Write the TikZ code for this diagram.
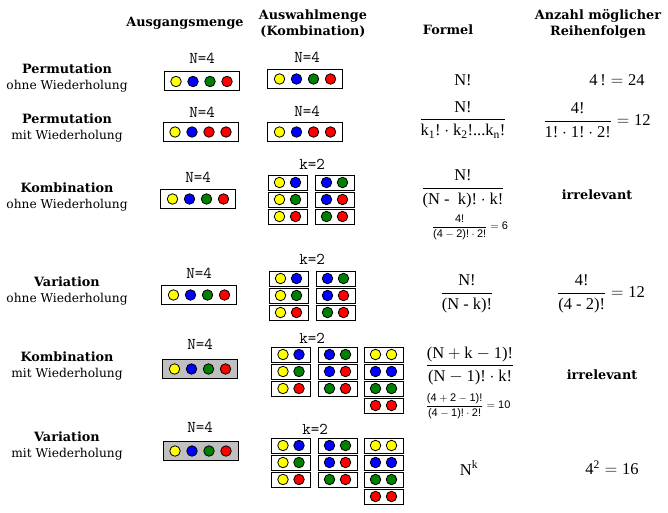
\documentclass[tikz,border=0pt]{standalone}
\usepackage{amsmath}
\usepackage{fontspec}
\setmainfont{Liberation Serif}
\setsansfont{Liberation Sans}
\newfontfamily\dvserif{DejaVu Serif}
\usetikzlibrary{calc}
\definecolor{cyel}{RGB}{255,255,0}
\definecolor{cblu}{RGB}{0,0,255}
\definecolor{cgrn}{RGB}{0,128,0}
\definecolor{cred}{RGB}{255,0,0}
\definecolor{csil}{RGB}{192,192,192}
\newcommand\rmtx[1]{\textrm{#1}}
\newcommand\sftx[1]{\textsf{#1}}
\tikzset{
 bigbx/.style={draw, line width=1pt, minimum width=75pt, minimum height=19pt, inner sep=0pt},
 smallbx/.style={draw, line width=1pt, minimum width=39pt, minimum height=15pt, inner sep=0pt, fill=white},
 ball/.style={circle, draw, line width=0.8pt, minimum size=10.5pt, inner sep=0pt},
 cnt/.style={font=\ttfamily\fontsize{16.5}{16}\selectfont, inner sep=0pt},
 hdr/.style={font=\dvserif\bfseries\fontsize{12.8}{16}\selectfont, align=center, inner sep=0pt},
 rowlbl/.style={font=\dvserif\fontsize{12.2}{16}\selectfont, align=center, inner sep=0pt},
 fml/.style={font=\fontsize{16.5}{19}\selectfont, inner sep=0pt},
 smallfml/.style={font=\sffamily\fontsize{11}{13}\selectfont, inner sep=0pt},
 irr/.style={font=\dvserif\bfseries\fontsize{12.8}{14}\selectfont, inner sep=0pt},
}
\newcommand\bigset[8]{%
  \node[bigbx, fill=#4] (#1) at (#2,#3) {};
  \node[ball, fill=#5] (#1-1) at ({#2-25.5},#3) {};
  \node[ball, fill=#6] (#1-2) at ({#2-8.5},#3) {};
  \node[ball, fill=#7] (#1-3) at ({#2+8.5},#3) {};
  \node[ball, fill=#8] (#1-4) at ({#2+25.5},#3) {};
}
\newcommand\pairset[5]{%
  \node[smallbx] (#1) at (#2,#3) {};
  \node[ball, fill=#4] (#1-1) at ({#2-8},#3) {};
  \node[ball, fill=#5] (#1-2) at ({#2+8},#3) {};
}
\newcommand\twocols[4]{%
  \pairset{#1a1}{#2}{#4}{cyel}{cblu}
  \pairset{#1a2}{#2}{#4+17}{cyel}{cgrn}
  \pairset{#1a3}{#2}{#4+34}{cyel}{cred}
  \pairset{#1b1}{#3}{#4}{cblu}{cgrn}
  \pairset{#1b2}{#3}{#4+17}{cblu}{cred}
  \pairset{#1b3}{#3}{#4+34}{cgrn}{cred}
}
\newcommand\thirdcol[3]{%
  \pairset{#1c1}{#2}{#3}{cyel}{cyel}
  \pairset{#1c2}{#2}{#3+17}{cblu}{cblu}
  \pairset{#1c3}{#2}{#3+34}{cgrn}{cgrn}
  \pairset{#1c4}{#2}{#3+51}{cred}{cred}
}
\begin{document}
\begin{tikzpicture}[x=1pt,y=-1pt]
\useasboundingbox (0,0) rectangle (668,513);
% headers
\node[hdr] (hAus) at (185,23) {Ausgangsmenge};
\node[hdr] (hAusw) at (313,24) {Auswahlmenge\\(Kombination)};
\node[hdr] (hForm) at (448,30) {Formel};
\node[hdr] (hAnz) at (598,24) {Anzahl möglicher\\Reihenfolgen};
% row labels
\node[rowlbl] (l1) at (67,78) {{\bfseries\fontsize{12.8}{16}\selectfont Permutation}\\ohne Wiederholung};
\node[rowlbl] (l2) at (67,128) {{\bfseries\fontsize{12.8}{16}\selectfont Permutation}\\mit Wiederholung};
\node[rowlbl] (l3) at (67,197) {{\bfseries\fontsize{12.8}{16}\selectfont Kombination}\\ohne Wiederholung};
\node[rowlbl] (l4) at (67,291) {{\bfseries\fontsize{12.8}{16}\selectfont Variation}\\ohne Wiederholung};
\node[rowlbl] (l5) at (67,366) {{\bfseries\fontsize{12.8}{16}\selectfont Kombination}\\mit Wiederholung};
\node[rowlbl] (l6) at (67,446) {{\bfseries\fontsize{12.8}{16}\selectfont Variation}\\mit Wiederholung};
% row 1
\node[cnt] (n1a) at (202,58) {N=4};
\bigset{s1a}{201.5}{81.5}{white}{cyel}{cblu}{cgrn}{cred}
\node[cnt] (n1b) at (307,57) {N=4};
\bigset{s1b}{305}{79}{white}{cyel}{cblu}{cgrn}{cred}
\node[fml] (f1) at (463,80) {N!};
\node[fml] (r1) at (617,80) {$\rmtx{4\,!} = \rmtx{24}$};
% row 2
\node[cnt] (n2a) at (202,112) {N=4};
\bigset{s2a}{200.5}{132}{white}{cyel}{cblu}{cred}{cred}
\node[cnt] (n2b) at (307,111) {N=4};
\bigset{s2b}{305}{132}{white}{cyel}{cblu}{cred}{cred}
\node[fml] (f2) at (463,120) {$\dfrac{\rmtx{N!}}{\rmtx{k}_{\rmtx{1}}\rmtx{!}\cdot\rmtx{k}_{\rmtx{2}}\rmtx{!...k}_{\rmtx{n}}\rmtx{!}}$};
\node[fml] (r2) at (597,120) {$\dfrac{\rmtx{4!}}{\rmtx{1!}\cdot\rmtx{1!}\cdot\rmtx{2!}} = \rmtx{12}$};
% row 3
\node[cnt] (n3a) at (198,177) {N=4};
\bigset{s3a}{198}{199}{white}{cyel}{cblu}{cgrn}{cred}
\node[cnt] (k3) at (312,164) {k=2};
\twocols{c3}{287.5}{334.5}{182.5}
\node[fml] (f3) at (463,189) {$\dfrac{\rmtx{N!}}{\rmtx{(N -\ \ k)!}\cdot\rmtx{k!}}$};
\node[smallfml] (e3) at (470,227) {$\dfrac{\sftx{4!}}{\sftx{(4}-\sftx{2)!}\cdot\sftx{2!}} = \sftx{6}$};
\node[irr] (r3) at (597,195) {irrelevant};
% row 4
\node[cnt] (n4a) at (199,273) {N=4};
\bigset{s4a}{199}{295}{white}{cyel}{cblu}{cgrn}{cred}
\node[cnt] (k4) at (312,259) {k=2};
\twocols{c4}{288.5}{335.5}{278.5}
\node[fml] (f4) at (467,294) {$\dfrac{\rmtx{N!}}{\rmtx{(N - k)!}}$};
\node[fml] (r4) at (601,294) {$\dfrac{\rmtx{4!}}{\rmtx{(4 - 2)!}} = \rmtx{12}$};
% row 5
\node[cnt] (n5a) at (200,344) {N=4};
\bigset{s5a}{200}{369}{csil}{cyel}{cblu}{cgrn}{cred}
\node[cnt] (k5) at (312,338) {k=2};
\twocols{c5}{291}{337.5}{354.5}
\thirdcol{c5}{383.5}{354.5}
\node[fml] (f5) at (470,366) {$\dfrac{\rmtx{(N}+\rmtx{k}-\rmtx{1)!}}{\rmtx{(N}-\rmtx{1)!}\cdot\rmtx{k!}}$};
\node[smallfml] (e5) at (468,406) {$\dfrac{\sftx{(4}+\sftx{2}-\sftx{1)!}}{\sftx{(4}-\sftx{1)!}\cdot\sftx{2!}} = \sftx{10}$};
\node[irr] (r5) at (602,375) {irrelevant};
% row 6
\node[cnt] (n6a) at (200,427) {N=4};
\bigset{s6a}{200.5}{451}{csil}{cyel}{cblu}{cgrn}{cred}
\node[cnt] (k6) at (315,429) {k=2};
\twocols{c6}{291}{337.5}{445.5}
\thirdcol{c6}{383.5}{445.5}
\node[fml] (f6) at (469,468) {$\rmtx{N}^{\rmtx{k}}$};
\node[fml] (r6) at (612,468) {$\rmtx{4}^{\rmtx{2}} = \rmtx{16}$};
\end{tikzpicture}
\end{document}
